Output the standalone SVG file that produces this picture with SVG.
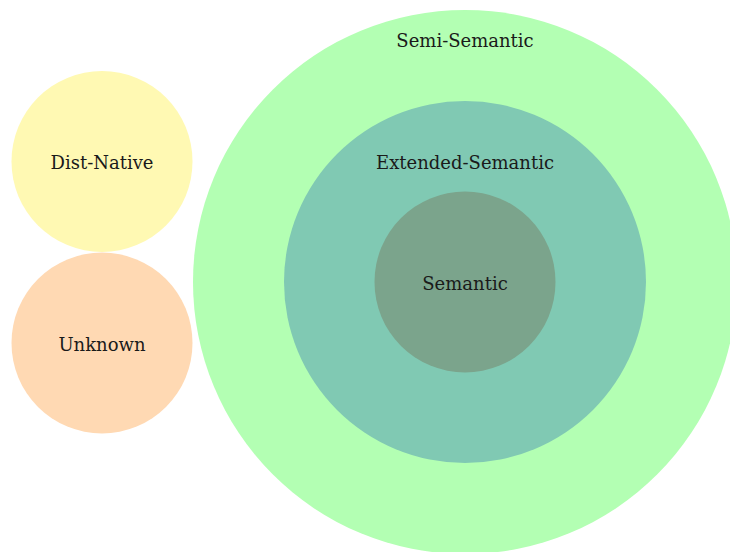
<svg xmlns="http://www.w3.org/2000/svg" width="730" height="552" viewBox="0 0 730 552">
<style>
.t{font-family:'DejaVu Serif',serif;font-size:18px;fill:#1a1a1a;text-anchor:middle}
</style>
<rect width="730" height="552" fill="#ffffff"/>
<g id="semi-semantic"><circle cx="465" cy="282" r="272" fill="#b3ffb3"/><text class="t" x="465" y="47">Semi-Semantic</text></g>
<g id="extended-semantic"><circle cx="465" cy="282" r="181" fill="#80c9b3"/><text class="t" x="465" y="169">Extended-Semantic</text></g>
<g id="semantic"><circle cx="465" cy="282" r="90.5" fill="#7ba48c"/><text class="t" x="465" y="290">Semantic</text></g>
<g id="dist-native"><circle cx="102" cy="161.5" r="90.5" fill="#fff9b3"/><text class="t" x="102" y="169">Dist-Native</text></g>
<g id="unknown"><circle cx="102" cy="343" r="90.5" fill="#ffd9b3"/><text class="t" x="102" y="351">Unknown</text></g>
<g id="connectors"/>
</svg>
